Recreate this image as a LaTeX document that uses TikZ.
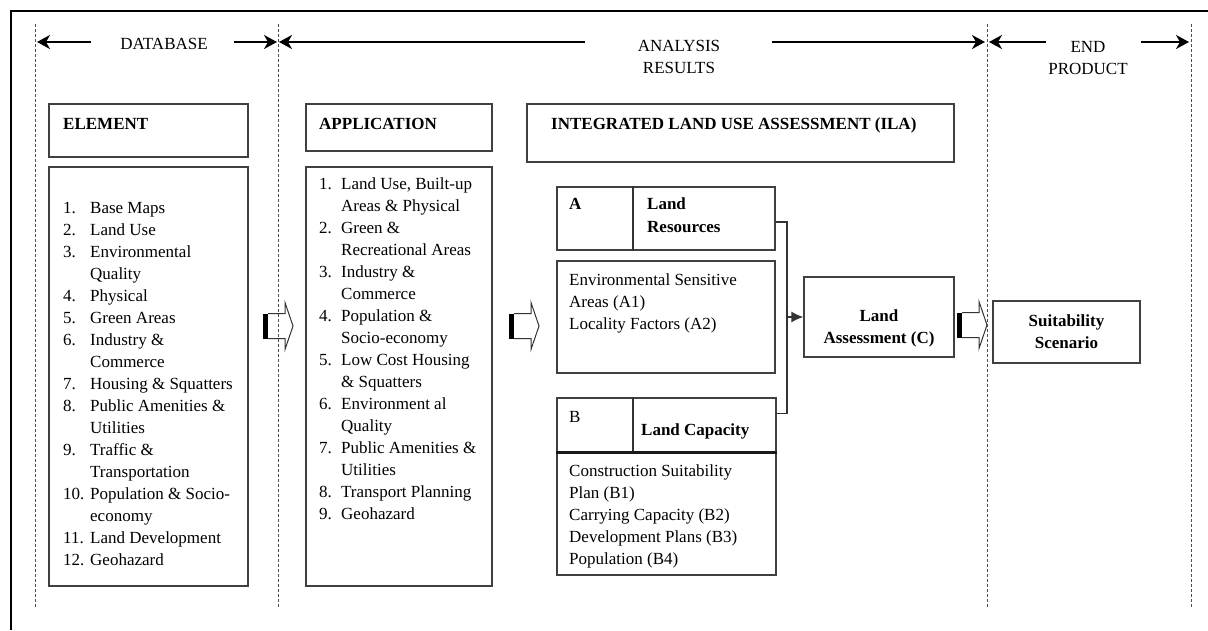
\documentclass[tikz,border=0pt]{standalone}
\usepackage{fontspec}
\setmainfont{Liberation Serif}
\usetikzlibrary{arrows.meta}
\begin{document}
\begin{tikzpicture}[x=1pt,y=-1pt,
  every node/.style={inner sep=0pt, font=\fontsize{17}{22}\selectfont},
  box/.style={draw=black!75, line width=1.3pt, rectangle},
  txt/.style={anchor=base west},
  btxt/.style={anchor=base west, font=\fontsize{17}{22}\selectfont\bfseries},
  divline/.style={draw=black!70, line width=0.8pt, dash pattern=on 3pt off 2pt},
  harrow/.style={line width=2pt, -{Stealth[length=13pt,width=14pt,inset=4pt]}},
  conn/.style={line width=1.3pt, draw=black!80},
  blockarr/.pic={
    \draw[line width=1pt, draw=black!80] (5,-12.5) -- (22,-12.5) -- (22,-23.5) -- (30,0) -- (22,23.5) -- (22,12.5) -- (5,12.5);
    \fill[black] (0,-12.5) rectangle (5,12.5);
  }
]
\useasboundingbox (0,0) rectangle (1208,630);
\fill[white] (0,0) rectangle (1208,630);
% frame
\draw[line width=2pt] (11,630) -- (11,10.7) -- (1208,10.7);

% header texts
\node (DB) at (164,44) {DATABASE};
\node[align=center] (AR) at (679,57) {ANALYSIS\\RESULTS};
\node[align=center] (EP) at (1088,58.5) {END\\PRODUCT};

\coordinate (h1a) at (91,42);   \coordinate (h1b) at (37,42);
\coordinate (h2a) at (234,42);  \coordinate (h2b) at (277,42);
\coordinate (h3a) at (585,42);  \coordinate (h3b) at (279,42);
\coordinate (h4a) at (772,42);  \coordinate (h4b) at (985,42);
\coordinate (h5a) at (1046,42); \coordinate (h5b) at (989,42);
\coordinate (h6a) at (1141,42); \coordinate (h6b) at (1189,42);
\draw[harrow] (h1a) -- (h1b);
\draw[harrow] (h2a) -- (h2b);
\draw[harrow] (h3a) -- (h3b);
\draw[harrow] (h4a) -- (h4b);
\draw[harrow] (h5a) -- (h5b);
\draw[harrow] (h6a) -- (h6b);

% column header boxes
\node[box, minimum width=199pt, minimum height=53pt] (ELEM) at (148.5,130.5) {};
\node[btxt] (ELEMt) at (63,129) {ELEMENT};
\node[box, minimum width=186pt, minimum height=47pt] (APP) at (399,127.5) {};
\node[btxt] (APPt) at (319,129) {APPLICATION};
\node[box, minimum width=427pt, minimum height=58pt] (ILA) at (740.5,133) {};
\node[btxt] (ILAt) at (551,129) {INTEGRATED LAND USE ASSESSMENT (ILA)};

% element list
\node[box, minimum width=199pt, minimum height=419pt] (ELIST) at (148.5,376.5) {};
\foreach \nm/\tx [count=\i from 0] in {1./Base Maps, 2./Land Use, 3./Environmental, {}/Quality,
  4./Physical, 5./Green Areas, 6./Industry \&, {}/Commerce, 7./Housing \& Squatters,
  8./Public Amenities \&, {}/Utilities, 9./Traffic \&, {}/Transportation,
  10./Population \& Socio-, {}/economy, 11./Land Development, 12./Geohazard}{
  \node[txt] (en\i) at (63,213+22*\i) {\nm};
  \node[txt] (et\i) at (90,213+22*\i) {\tx};
}

% application list
\node[box, minimum width=186pt, minimum height=419pt] (ALIST) at (399,376.5) {};
\foreach \nm/\tx [count=\i from 0] in {1./{Land Use, Built-up}, {}/Areas \& Physical,
  2./Green \&, {}/Recreational Areas, 3./Industry \&, {}/Commerce,
  4./Population \&, {}/Socio-economy, 5./Low Cost Housing, {}/\& Squatters,
  6./Environment al, {}/Quality, 7./Public Amenities \&, {}/Utilities,
  8./Transport Planning, 9./Geohazard}{
  \node[txt] (an\i) at (319,189+22*\i) {\nm};
  \node[txt] (at\i) at (341,189+22*\i) {\tx};
}

% A block
\node[box, minimum width=218pt, minimum height=63pt] (Ahead) at (666,218.5) {};
\draw[draw=black!80, line width=1.8pt] ([xshift=77pt]Ahead.north west) -- ([xshift=77pt]Ahead.south west);
\node[btxt] (Alab) at (569,209) {A};
\node[btxt] (Ati1) at (647,209) {Land};
\node[btxt] (Ati2) at (647,232) {Resources};
\node[box, minimum width=218pt, minimum height=112pt] (Abody) at (666,317) {};
\node[txt] (Ab1) at (569,285) {Environmental Sensitive};
\node[txt] (Ab2) at (569,307) {Areas (A1)};
\node[txt] (Ab3) at (569,329) {Locality Factors (A2)};

% B block
\node[box, minimum width=219pt, minimum height=54pt] (Bhead) at (666.5,425) {};
\draw[draw=black!80, line width=1.8pt] ([xshift=77pt]Bhead.north west) -- ([xshift=77pt]Bhead.south west);
\node[txt] (Blab) at (569,422) {B};
\node[btxt] (Bti) at (641,435) {Land Capacity};
\node[box, minimum width=219pt, minimum height=123pt] (Bbody) at (666.5,513.5) {};
\draw[draw=black!90, line width=2.4pt] (Bhead.south west) -- (Bhead.south east);
\node[txt] (Bb1) at (569,476) {Construction Suitability};
\node[txt] (Bb2) at (569,498) {Plan (B1)};
\node[txt] (Bb3) at (569,520) {Carrying Capacity (B2)};
\node[txt] (Bb4) at (569,542) {Development Plans (B3)};
\node[txt] (Bb5) at (569,564) {Population (B4)};

% Land assessment and end product
\node[box, minimum width=150pt, minimum height=80pt] (LA) at (879,317) {};
\node[align=center, font=\fontsize{17}{22}\selectfont\bfseries] (LAt) at (879,328) {Land\\Assessment (C)};
\node[box, minimum width=147pt, minimum height=62pt] (SS) at (1066.5,332) {};
\node[align=center, font=\fontsize{17}{22}\selectfont\bfseries] (SSt) at (1066.5,332) {Suitability\\Scenario};

% connector A/B -> LA
\coordinate (jn) at (787,317);
\draw[conn] ([yshift=-3.5pt]Ahead.east) -| (jn) |- ([yshift=-16pt]Bhead.north east);
\draw[conn, -{Latex[length=12pt,width=11pt]}] (jn) -- (LA.west);

% block arrows
\pic at (263,326) {blockarr};
\pic at (509,326) {blockarr};
\pic at (957,325) {blockarr};

% dashed dividers
\foreach \x in {35,278,987,1191} \draw[divline] (\x,24) -- (\x,608);
\end{tikzpicture}
\end{document}
